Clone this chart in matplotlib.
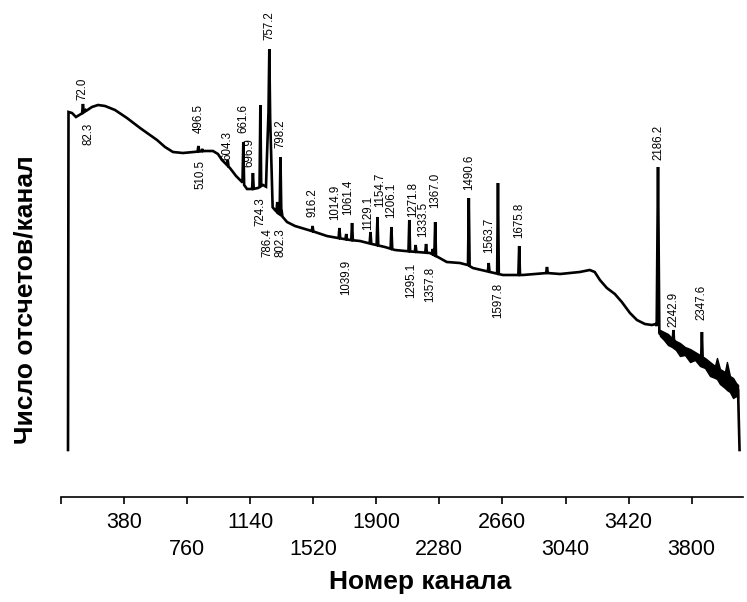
import numpy as np
import matplotlib
matplotlib.use("Agg")
import matplotlib.pyplot as plt

plt.rcParams['font.family'] = ['Liberation Sans', 'DejaVu Sans']

# Smooth continuum of the spectrum: channel number and counts per channel
cont_channel = [44, 47, 68, 92, 152, 188, 225, 267, 327, 399, 478, 538, 580, 628,
                676, 736, 797, 869, 917, 947, 971, 1019, 1056, 1092, 1122, 1158,
                1188, 1218, 1240, 1275, 1290, 1308, 1332, 1363, 1411, 1471, 1531,
                1603, 1669, 1742, 1802, 1874, 1952, 2013, 2073, 2145, 2223, 2271,
                2325, 2404, 2452, 2482, 2585, 2663, 2783, 2929, 3007, 3126, 3186,
                3216, 3247, 3289, 3337, 3379, 3428, 3470, 3518, 3560, 3584, 3608,
                3650, 3699, 3759, 3819, 3879, 3940, 4000, 4049, 4079, 4088]
cont_counts = [0, 338, 337, 333, 339, 343, 345, 344, 340, 332, 322, 315, 310, 303,
               298, 297, 298, 299, 299, 296, 290, 282, 274, 268, 261, 261,
               262, 265, 263, 243, 240, 237, 234, 228, 224, 221, 218,
               214, 212, 210, 209, 206, 203, 200, 199, 198, 197, 193,
               188, 187, 185, 182, 178, 175, 175, 177, 176, 178, 180,
               178, 170, 162, 156, 148, 137, 130, 126, 125, 126, 116,
               112, 105, 99, 93, 87, 77, 70, 64, 60, 0]

# Statistical scatter band in the high-energy tail (upper / lower envelope)
tail_channel = [3609, 3633, 3657, 3681, 3705, 3729, 3759, 3790, 3820, 3850, 3880,
                3910, 3940, 3952, 3970, 4000, 4012, 4030, 4049, 4067, 4079]
tail_upper = [120, 118, 116, 112, 109, 107, 103, 101, 98, 95, 92,
              88, 84, 92, 81, 78, 88, 74, 72, 67, 65]
tail_lower = [114, 110, 105, 103, 100, 94, 95, 88, 90, 84, 82,
              74, 72, 71, 66, 62, 60, 58, 52, 54, 52]

# Photopeaks: energy (keV) and counts at the peak maximum
peak_energy = [72.0, 82.3, 496.5, 510.5, 604.3, 661.6, 696.9, 724.3, 757.2,
               786.4, 798.2, 802.3, 916.2, 1014.9, 1039.9, 1061.4, 1129.1,
               1154.7, 1206.1, 1271.8, 1295.1, 1333.5, 1357.8, 1367.0, 1490.6,
               1563.7, 1597.8, 1675.8, 1778.0, 2186.2, 2242.9, 2347.6]
peak_top = [346, 340, 304, 301, 290, 308, 277, 345, 401,
            248, 293, 240, 224, 222, 216, 227, 218,
            233, 223, 230, 205, 206, 201, 228, 252,
            187, 267, 204, 183, 283, 120, 118]
# broad base of the strongest line
shoulder_energy = [757.2]
shoulder_top = [362]

# energy calibration: channel = GAIN * E + OFFSET
GAIN, OFFSET = 1.638, 16.0

# Peak annotations
labels_above = [72.0, 496.5, 604.3, 661.6, 696.9, 757.2, 798.2, 916.2, 1014.9,
                1061.4, 1129.1, 1154.7, 1206.1, 1271.8, 1333.5, 1367.0, 1490.6,
                1563.7, 1675.8, 2186.2, 2242.9, 2347.6]
labels_below = [82.3, 510.5, 724.3, 786.4, 802.3, 1039.9, 1295.1, 1357.8, 1597.8]

tick_values = [0, 380, 760, 1140, 1520, 1900, 2280, 2660, 3040, 3420, 3800]
tick_labels = ['', '380', '760', '1140', '1520', '1900', '2280', '2660',
               '3040', '3420', '3800']

xlabel = 'Номер канала'
ylabel = 'Число отсчетов/канал'


def channel(e):
    return GAIN * e + OFFSET


# --- build spectrum polyline (continuum + triangular peaks) ---
half_w = {757.2: 5, 2186.2: 8}
shoulder_hw = 20
pk_ch = [channel(e) for e in peak_energy]
sh_ch = [channel(e) for e in shoulder_energy]

xs = set(cont_channel)
for c, e in zip(pk_ch, peak_energy):
    h = half_w.get(e, 5)
    xs.update([c - h, c, c + h])
for c in sh_ch:
    xs.update([c - shoulder_hw, c, c + shoulder_hw])
xs = np.array(sorted(xs))
ys = np.interp(xs, cont_channel, cont_counts)

for c, top in zip(sh_ch, shoulder_top):
    base = np.interp(c, cont_channel, cont_counts)
    ys += np.clip((top - base) * (1 - np.abs(xs - c) / shoulder_hw), 0, None)
for c, e, top in zip(pk_ch, peak_energy, peak_top):
    h = half_w.get(e, 5)
    cur = np.interp(c, xs, ys)
    ys += np.clip((top - cur) * (1 - np.abs(xs - c) / h), 0, None)

# --- figure ---
fig = plt.figure(figsize=(7.47, 6.02), dpi=100)
ax = fig.add_axes([60.7 / 747, 105 / 602, (743.2 - 60.7) / 747, 497 / 602])
ax.set_xlim(0, 4110)
ax.set_ylim(-47, 450)

ax.fill_between(tail_channel, tail_lower, tail_upper, color='black', lw=1.0)
ax.plot(xs, ys, color='black', lw=1.9, solid_joinstyle='miter')

# peak labels (horizontal shifts in channels to keep crowded labels apart)
nudge = {82.3: 14, 510.5: -12, 696.9: -24, 786.4: -60, 802.3: -4, 1014.9: -26,
         1061.4: -22, 1129.1: -16, 1154.7: 14, 1271.8: 22, 1295.1: -28,
         1333.5: -18, 1357.8: -16}
above_y = {72.0: 350, 496.5: 317, 604.3: 290, 661.6: 317, 696.9: 283, 757.2: 410,
           798.2: 302, 916.2: 233, 1014.9: 230, 1061.4: 235, 1129.1: 220,
           1154.7: 243, 1206.1: 232, 1271.8: 233, 1333.5: 213, 1367.0: 242,
           1490.6: 260, 1563.7: 197, 1675.8: 212, 2186.2: 290, 2242.9: 123,
           2347.6: 130}
below_y = {82.3: 327, 510.5: 290, 724.3: 253, 786.4: 222, 802.3: 222,
           1039.9: 190, 1295.1: 187, 1357.8: 183, 1597.8: 167}

for e in labels_above:
    ax.text(channel(e) + nudge.get(e, 0), above_y[e], f'{e:.1f}', rotation=90,
            ha='center', va='bottom', fontsize=8.3)
for e in labels_below:
    ax.text(channel(e) + nudge.get(e, 0), below_y[e], f'{e:.1f}', rotation=90,
            ha='center', va='top', fontsize=8.3)

# axes styling
for side in ('left', 'right', 'top'):
    ax.spines[side].set_visible(False)
ax.spines['bottom'].set_linewidth(1.2)
ax.set_yticks([])
ax.set_xticks(tick_values)
ax.set_xticklabels(tick_labels, fontsize=15.5)
ax.tick_params(axis='x', direction='out', length=5, width=1.2, pad=6)
for i, t in enumerate(ax.xaxis.get_major_ticks()):
    if i % 2 == 0:
        t.set_pad(25)

ax.set_xlabel(xlabel, fontsize=19, fontweight='bold')
ax.xaxis.set_label_coords((420 - 60.7) / 682.5, (497 - 582) / 497)
ax.xaxis.label.set_va('center')
ax.set_ylabel(ylabel, fontsize=19, fontweight='bold')
ax.yaxis.set_label_coords((26 - 60.7) / 682.5, (497 - 300) / 497)
ax.yaxis.label.set_va('center')

fig.savefig('out.png', dpi=100)
